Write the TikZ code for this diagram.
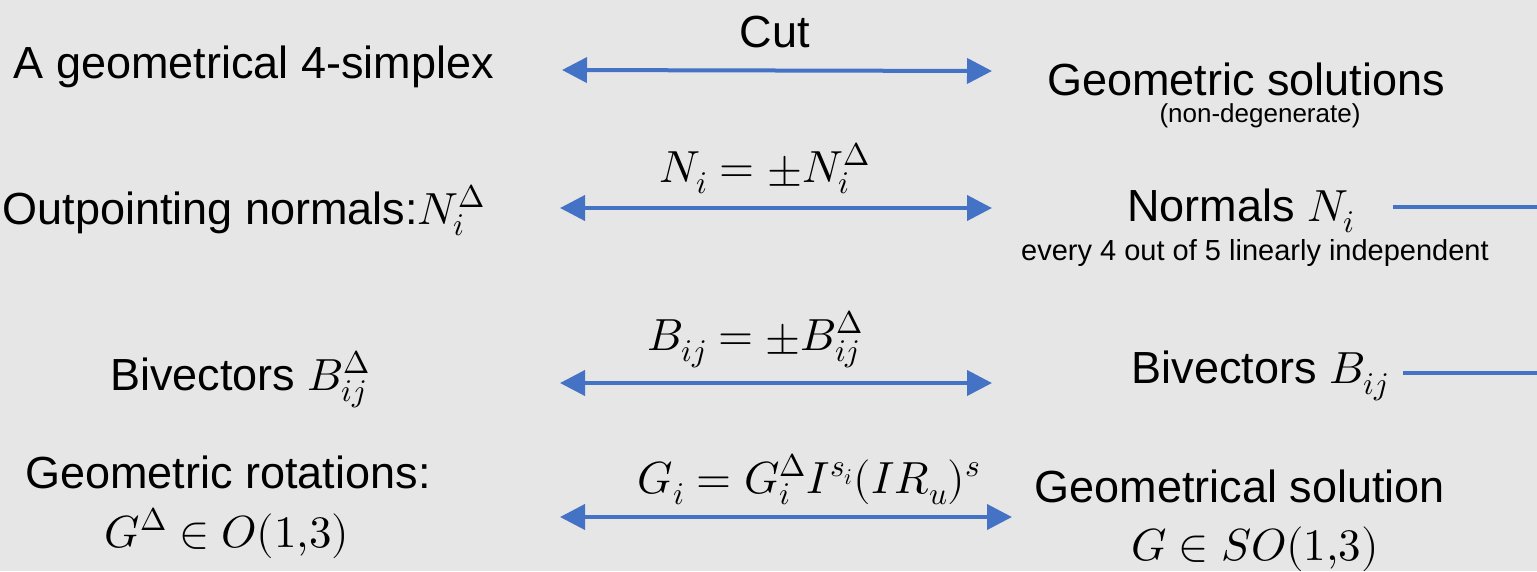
\documentclass[tikz,border=0pt]{standalone}
\usepackage{fontspec}
\usepackage{unicode-math}
\setmainfont{Liberation Sans}
\setmathfont{Latin Modern Math}
\usetikzlibrary{arrows.meta}
\definecolor{bg}{HTML}{E7E6E6}
\definecolor{arr}{HTML}{4472C4}
\tikzset{
  big/.style={font=\fontsize{45}{50}\selectfont, inner sep=0pt, anchor=base},
  mid/.style={font=\fontsize{29}{32}\selectfont, inner sep=0pt, anchor=base},
  tiny/.style={font=\fontsize{26}{29}\selectfont, inner sep=0pt, anchor=base},
  dbl/.style={draw=arr, line width=4pt, {Triangle[length=25pt,width=25pt]}-{Triangle[length=25pt,width=25pt]}},
  plain/.style={draw=arr, line width=4pt},
}
\begin{document}
\begin{tikzpicture}[x=1pt,y=-1pt]
\fill[bg] (0,0) rectangle (1537,571);
\useasboundingbox (0,0) rectangle (1537,571);
% row 1
\node[big] (l1) at (254,78) {A geometrical 4-simplex};
\node[big] (c1) at (775,47) {Cut};
\node[big] (r1) at (1246,95) {Geometric solutions};
\node[tiny] (r1s) at (1260,122) {(non-degenerate)};
\coordinate (a1l) at (562,70);
\coordinate (a1r) at (992,71);
\draw[dbl] (a1l) -- (a1r);
% row 2
\node[big] (l2) at (244,224) {Outpointing normals:$N_i^\Delta$};
\node[big] (c2) at (765,182) {$N_i=\pm N_i^\Delta$};
\node[big] (r2) at (1241,221) {Normals $N_i$};
\node[mid] (r2s) at (1255,260) {every 4 out of 5 linearly independent};
\coordinate (a2l) at (560,208);
\coordinate (a2r) at (992,208);
\draw[dbl] (a2l) -- (a2r);
\coordinate (s2) at (1393,207);
\coordinate (e2) at (1537,207);
\draw[plain] (s2) -- (e2);
% row 3
\node[big] (l3) at (240,390) {Bivectors $B_{ij}^\Delta$};
\node[big] (c3) at (755,350) {$B_{ij}=\pm B_{ij}^\Delta$};
\node[big] (r3) at (1260,383) {Bivectors $B_{ij}$};
\coordinate (a3l) at (560,383);
\coordinate (a3r) at (992,383);
\draw[dbl] (a3l) -- (a3r);
\coordinate (s3) at (1403,373);
\coordinate (e3) at (1537,373);
\draw[plain] (s3) -- (e3);
% row 4
\node[big] (l4a) at (228,488) {Geometric rotations:};
\node[big] (l4b) at (227,547) {$G^\Delta\in O(1{,}3)$};
\node[big] (c4) at (809,493) {$G_i=G_i^\Delta I^{s_i}(IR_u)^s$};
\node[big] (r4a) at (1240,502) {Geometrical solution};
\node[big] (r4b) at (1255,560) {$G\in SO(1{,}3)$};
\coordinate (a4l) at (560,517);
\coordinate (a4r) at (1012,517);
\draw[dbl] (a4l) -- (a4r);
\end{tikzpicture}
\end{document}
